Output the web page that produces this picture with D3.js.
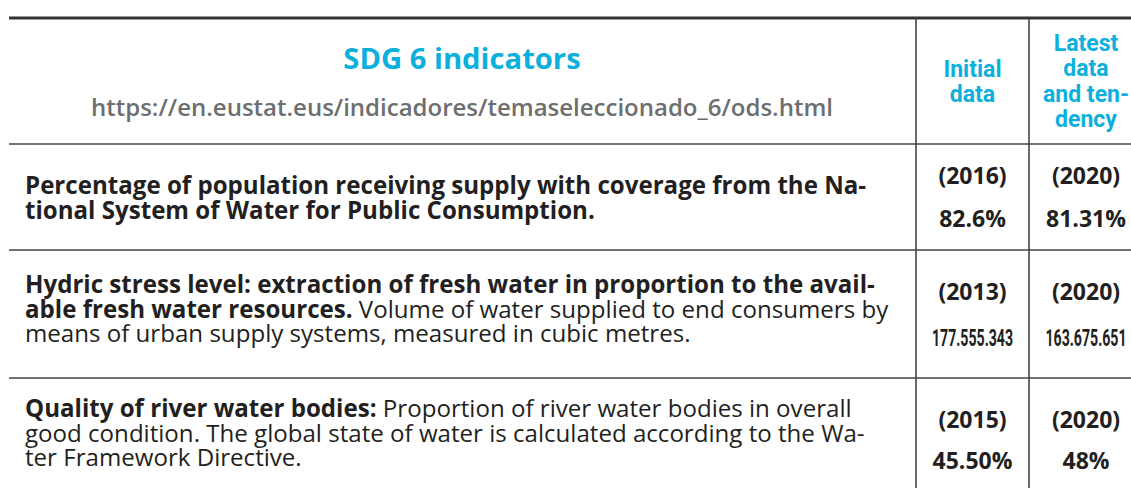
<!doctype html>
<html>

<head>
    <meta charset="utf-8">
    <title>SDG 6 indicators</title>
    <script src="https://cdnjs.cloudflare.com/ajax/libs/d3/7.8.5/d3.min.js"></script>
    <style>
        body { margin: 0; background: #fff; }
        text { font-family: "Open Sans", sans-serif; }
    </style>
</head>

<body>
    <div id="my-table"></div>

    <script>
        // table contents
        const title = 'SDG 6 indicators'
        const sourceUrl = 'https://en.eustat.eus/indicadores/temaseleccionado_6/ods.html'
        const columnHeaders = [['Initial', 'data'], ['Latest', 'data', 'and ten-', 'dency']]

        // each indicator: list of lines, each line = [bold part, regular part]
        const indicators = [
            [['Percentage of population receiving supply with coverage from the Na-', ''],
             ['tional System of Water for Public Consumption.', '']],
            [['Hydric stress level: extraction of fresh water in proportion to the avail-', ''],
             ['able fresh water resources.', ' Volume of water supplied to end consumers by'],
             ['', 'means of urban supply systems, measured in cubic metres.']],
            [['Quality of river water bodies:', ' Proportion of river water bodies in overall'],
             ['', 'good condition. The global state of water is calculated according to the Wa-'],
             ['', 'ter Framework Directive.']]
        ]
        const initialYears = ['(2016)', '(2013)', '(2015)']
        const initialValues = ['82.6%', '177.555.343', '45.50%']
        const latestYears = ['(2020)', '(2020)', '(2020)']
        const latestValues = ['81.31%', '163.675.651', '48%']

        // == drawing ==
        const width = 1131, height = 488
        const blue = '#0cb0dd', ink = '#231f20', grey = '#6d6e70', rule = '#444'

        const svg = d3.select('#my-table')
            .append('svg')
            .attr('width', width)
            .attr('height', height)

        // column edges and row edges (last column runs past the right edge)
        const colEdges = [9, 916, 1029, 1143]
        const rowEdges = [18, 144, 250, 378, height + 30]
        const colMid = i => (colEdges[i] + colEdges[i + 1]) / 2

        // rules
        svg.append('line')
            .attr('x1', colEdges[0]).attr('x2', width)
            .attr('y1', rowEdges[0]).attr('y2', rowEdges[0])
            .attr('stroke', '#333').attr('stroke-width', 3)

        svg.selectAll('line.row')
            .data(rowEdges.slice(1, 4))
            .join('line')
            .attr('class', 'row')
            .attr('x1', colEdges[0]).attr('x2', width)
            .attr('y1', d => d).attr('y2', d => d)
            .attr('stroke', rule).attr('stroke-width', 1.6)

        svg.selectAll('line.col')
            .data(colEdges.slice(1, 3))
            .join('line')
            .attr('class', 'col')
            .attr('x1', d => d).attr('x2', d => d)
            .attr('y1', rowEdges[0]).attr('y2', height)
            .attr('stroke', rule).attr('stroke-width', 1.6)

        // header
        svg.append('text')
            .attr('x', 462).attr('y', 69)
            .attr('text-anchor', 'middle')
            .attr('fill', blue)
            .style('font-size', '29.2px').style('font-weight', 700)
            .text(title)

        svg.append('text')
            .attr('x', 462).attr('y', 116)
            .attr('text-anchor', 'middle')
            .attr('fill', grey)
            .style('font-size', '24px').style('font-weight', 600)
            .text(sourceUrl)

        const headTop = [77, 51]
        columnHeaders.forEach((lines, c) => {
            svg.append('g')
                .selectAll('text')
                .data(lines)
                .join('text')
                .attr('x', colMid(c + 1))
                .attr('y', (d, i) => headTop[c] + i * 25.3)
                .attr('text-anchor', 'middle')
                .attr('fill', blue)
                .style('font-family', 'Roboto, sans-serif')
                .style('font-size', '23px').style('font-weight', 700)
                .text(d => d)
        })

        // indicator rows
        const firstBaseline = [194, 293, 417]
        indicators.forEach((lines, r) => {
            const t = svg.append('g')
                .selectAll('text')
                .data(lines)
                .join('text')
                .attr('x', 25)
                .attr('y', (d, i) => firstBaseline[r] + i * 24.5)
                .attr('fill', ink)
                .style('font-size', '24.1px')

            t.append('tspan').style('font-weight', 700).text(d => d[0])
            t.append('tspan').style('font-weight', 400).text(d => d[1])
        })

        // value cells
        const yearBaseline = [184, 300, 428]
        const valueBaseline = [227, 346, 469]
        const valueCols = [[initialYears, initialValues], [latestYears, latestValues]]

        valueCols.forEach(([years, values], c) => {
            svg.append('g')
                .selectAll('text')
                .data(years)
                .join('text')
                .attr('x', colMid(c + 1))
                .attr('y', (d, i) => yearBaseline[i])
                .attr('text-anchor', 'middle')
                .attr('fill', ink)
                .style('font-size', '23px').style('font-weight', 700)
                .text(d => d)

            svg.append('g')
                .selectAll('text')
                .data(values)
                .join('text')
                .attr('x', colMid(c + 1))
                .attr('y', (d, i) => valueBaseline[i])
                .attr('text-anchor', 'middle')
                .attr('fill', ink)
                .each(function (d) {
                    const el = d3.select(this)
                    if (d.length > 8) {
                        // long numbers are set in a narrow face
                        el.style('font-family', 'Roboto, sans-serif')
                          .style('font-size', '23px').style('font-weight', 700)
                          .attr('textLength', 81).attr('lengthAdjust', 'spacingAndGlyphs')
                    } else {
                        el.style('font-size', '23px').style('font-weight', 700)
                    }
                })
                .text(d => d)
        })
    </script>
</body>

</html>
